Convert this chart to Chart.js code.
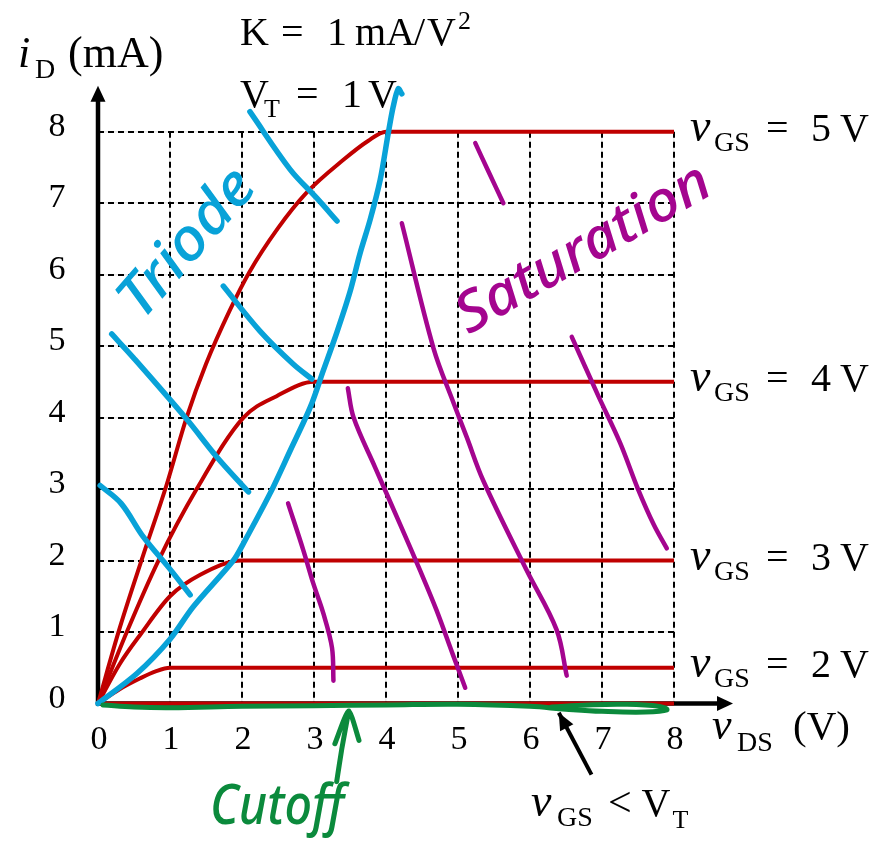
<!DOCTYPE html>
<html>
<head>
<meta charset="utf-8">
<script src="https://cdn.jsdelivr.net/npm/chart.js@4/dist/chart.umd.min.js"></script>
<style>
  html, body { margin: 0; padding: 0; background: #fff; }
  canvas { display: block; }
</style>
</head>
<body>
<canvas id="chart" width="883" height="844"></canvas>
<script>
// Axis ticks
const vdsTicks = [0, 1, 2, 3, 4, 5, 6, 7, 8];
const idTicks = [0, 1, 2, 3, 4, 5, 6, 7, 8];

// Gate-voltage labels and the saturation current each curve settles at (mA)
const gateVolts = ['5', '4', '3', '2'];
const gateSatCurrent = [8, 4.5, 2, 0.5];

// Output characteristics [v_DS (V), i_D (mA)]
const curveVgs5 = [[0,0],[0.3,1.05],[0.62,2.05],[0.95,3.05],[1.23,4],[1.5,4.75],[1.83,5.5],[2.1,6.03],[2.5,6.65],[2.9,7.15],[3.4,7.6],[3.75,7.87],[4,8],[8,8]];
const curveVgs4 = [[0,0],[0.4,1],[0.84,2],[1.37,3],[2.02,4],[2.48,4.3],[3,4.5],[8,4.5]];
const curveVgs3 = [[0,0],[0.3,0.55],[0.6,0.98],[1,1.5],[1.42,1.8],[2,2],[8,2]];
const curveVgs2 = [[0,0],[0.3,0.2],[0.58,0.35],[0.8,0.45],[1,0.5],[8,0.5]];
const curveCutoff = [[0,0],[8,0]];

// Triode / saturation boundary, sketched by hand
const edgeTriode = [[0,0],[0.54,0.42],[1.0,0.9],[1.32,1.35],[1.88,2.0],[2.02,2.24],[2.39,2.94],[2.67,3.54],[2.95,4.15],[3.13,4.66],[3.32,5.2],[3.5,5.76],[3.64,6.3],[3.78,6.77],[3.92,7.33],[4.03,7.97],[4.1,8.35],[4.17,8.6],[4.22,8.53]];

// Hatching of the triode region
const triodeHatch1 = [[0.03,3.05],[0.32,2.8],[0.63,2.33],[1.0,1.88],[1.28,1.52]];
const triodeHatch2 = [[0.19,5.17],[0.49,4.84],[1.23,3.98],[1.65,3.45],[2.09,2.96]];
const triodeHatch3 = [[1.74,5.84],[2.25,5.21],[2.71,4.75],[2.97,4.54]];
const triodeHatch4 = [[2.11,8.28],[2.67,7.47],[3.04,7.07],[3.32,6.75]];

// Hatching of the saturation region
const satHatch1 = [[2.64,2.8],[2.85,2.15],[2.99,1.68],[3.13,1.26],[3.25,0.78],[3.27,0.32]];
const satHatch2 = [[3.47,4.41],[3.55,4.0],[3.85,3.3],[4.19,2.52],[4.47,1.87],[4.7,1.31],[4.93,0.68],[5.1,0.22]];
const satHatch3 = [[4.22,6.72],[4.66,4.97],[4.94,4.2],[5.12,3.73],[5.35,3.12],[5.95,1.87],[6.37,1.03],[6.51,0.39]];
const satHatch4 = [[5.24,7.84],[5.42,7.45],[5.63,7.0]];
const satHatch5 = [[6.58,5.13],[6.95,4.3],[7.25,3.65],[7.5,3.0],[7.72,2.5],[7.9,2.17]];

// Cutoff region: loop along the axis and its pointer
const cutoffLoop = [[0.07,-0.02],[0.5,-0.05],[1.0,-0.06],[2,-0.04],[3,-0.03],[4,-0.02],[5,-0.01],[6,-0.04],[6.5,-0.08],[7,-0.11],[7.6,-0.12],[7.9,-0.09],[7.8,-0.04],[7.3,-0.01],[6.8,-0.02],[6.3,-0.05]];
const cutoffPointer = [[3.315,-1.093],[3.386,-0.635],[3.482,-0.105],[3.4,null],[3.29,-0.562],[3.482,-0.105],[3.625,-0.515]];

// Pointer from the v_GS < V_T note to the zero-current line (tail, tip)
const belowThresholdPointer = [[6.854,-0.996],[6.4,-0.13]];

const RED = '#c00000';
const BLUE = '#08a2d8';
const PURPLE = '#a4058f';
const GREEN = '#0b8a3c';
const SERIF = '"Liberation Serif", "Times New Roman", serif';
const HAND = '"Noto Sans", "Open Sans", sans-serif';

const toPts = arr => arr.map(([x, y]) => ({ x, y }));

function stroke(data, color, width, order, extra) {
  return Object.assign({
    data: toPts(data),
    borderColor: color,
    backgroundColor: color,
    borderWidth: width,
    pointRadius: 0,
    fill: false,
    clip: false,
    spanGaps: false,
    order,
    borderCapStyle: 'round',
    borderJoinStyle: 'round',
    tension: 0.35
  }, extra || {});
}

const smooth = { cubicInterpolationMode: 'monotone', borderCapStyle: 'butt' };

const datasets = [
  stroke(curveVgs5, RED, 4, 6, smooth),
  stroke(curveVgs4, RED, 4, 6, smooth),
  stroke(curveVgs3, RED, 4, 6, smooth),
  stroke(curveVgs2, RED, 4, 6, smooth),
  stroke(curveCutoff, RED, 4, 6, { tension: 0, borderCapStyle: 'butt' }),
  stroke(satHatch1, PURPLE, 4.5, 5),
  stroke(satHatch2, PURPLE, 4.5, 5),
  stroke(satHatch3, PURPLE, 4.5, 5),
  stroke(satHatch4, PURPLE, 4.5, 5),
  stroke(satHatch5, PURPLE, 4.5, 5),
  stroke(edgeTriode, BLUE, 5.5, 4, { tension: 0.3 }),
  stroke(triodeHatch1, BLUE, 5.5, 4),
  stroke(triodeHatch2, BLUE, 5.5, 4),
  stroke(triodeHatch3, BLUE, 5.5, 4),
  stroke(triodeHatch4, BLUE, 5.5, 4),
  stroke(cutoffLoop, GREEN, 5, 3, { tension: 0.4 }),
  stroke(cutoffPointer, GREEN, 5, 3, { tension: 0.2 }),
  stroke(belowThresholdPointer, '#000', 4, 2, { tension: 0, borderCapStyle: 'butt', pointerHead: true })
];
const POINTER_INDEX = datasets.length - 1;

function drawRuns(ctx, x, y, parts) {
  ctx.textAlign = 'left';
  ctx.textBaseline = 'alphabetic';
  for (const [text, font, dx, dy] of parts) {
    ctx.font = font;
    ctx.fillText(text, x + dx, y + dy);
  }
}

function drawHand(ctx, text, cx, cy, deg, width, font, color) {
  ctx.save();
  ctx.translate(cx, cy);
  ctx.rotate(deg * Math.PI / 180);
  ctx.font = font;
  const w = ctx.measureText(text).width;
  ctx.scale(width / w, 1);
  ctx.textAlign = 'center';
  ctx.textBaseline = 'middle';
  ctx.fillStyle = color;
  ctx.fillText(text, 0, 0);
  ctx.restore();
}

// filled arrowhead at (tx, ty) pointing away from (fx, fy)
function arrowHead(ctx, fx, fy, tx, ty, len, half) {
  const a = Math.atan2(ty - fy, tx - fx);
  const bx = tx - Math.cos(a) * len, by = ty - Math.sin(a) * len;
  ctx.beginPath();
  ctx.moveTo(tx, ty);
  ctx.lineTo(bx + Math.sin(a) * half, by - Math.cos(a) * half);
  ctx.lineTo(bx - Math.sin(a) * half, by + Math.cos(a) * half);
  ctx.closePath();
  ctx.fill();
}

const decor = {
  id: 'decor',
  beforeDatasetsDraw(chart) {
    const { ctx } = chart;
    const xs = chart.scales.x, ys = chart.scales.y;
    const x0 = xs.getPixelForValue(0), y0 = ys.getPixelForValue(0);
    const yTop = ys.getPixelForValue(8) - 46;
    const xEnd = xs.getPixelForValue(8) + 59;
    ctx.save();
    ctx.strokeStyle = '#000';
    ctx.fillStyle = '#000';
    ctx.lineWidth = 4.5;
    ctx.beginPath();
    ctx.moveTo(x0, y0 + 2);
    ctx.lineTo(x0, yTop + 14);
    ctx.stroke();
    arrowHead(ctx, x0, y0, x0, yTop, 16, 7.5);
    ctx.beginPath();
    ctx.moveTo(x0 - 2, y0);
    ctx.lineTo(xEnd - 14, y0);
    ctx.stroke();
    arrowHead(ctx, x0, y0, xEnd, y0, 16, 7.5);
    ctx.restore();
  },
  afterDatasetsDraw(chart) {
    const { ctx } = chart;
    const xs = chart.scales.x, ys = chart.scales.y;
    ctx.save();
    ctx.fillStyle = '#000';

    // head of the threshold pointer, placed on the dataset's last point
    const pts = chart.getDatasetMeta(POINTER_INDEX).data;
    arrowHead(ctx, pts[0].x, pts[0].y, pts[1].x, pts[1].y, 17, 7.5);

    // tick labels
    ctx.font = '34px ' + SERIF;
    ctx.textAlign = 'center';
    ctx.textBaseline = 'alphabetic';
    vdsTicks.forEach(v => ctx.fillText(String(v), xs.getPixelForValue(v) + 1, 749));
    idTicks.forEach(v => ctx.fillText(String(v), 57, ys.getPixelForValue(v) + 4));

    // axis titles
    drawRuns(ctx, 18, 66.7, [
      ['i', 'italic 44px ' + SERIF, 0, 0],
      ['D', '28px ' + SERIF, 17, 11.6],
      ['(mA)', '44px ' + SERIF, 50, 0]
    ]);
    const xr = xs.getPixelForValue(8);
    drawRuns(ctx, xr + 38, 739, [
      ['v', 'italic 44px ' + SERIF, 0, 0],
      ['DS', '28px ' + SERIF, 25, 12],
      ['(V)', '41px ' + SERIF, 81, 0]
    ]);

    // device parameters
    drawRuns(ctx, 240, 45, [
      ['K', '40px ' + SERIF, 0, 0],
      ['=', '40px ' + SERIF, 41, 0],
      ['1', '40px ' + SERIF, 87, 0],
      ['mA', '40px ' + SERIF, 115, 0],
      ['/', '40px ' + SERIF, 174, 0],
      ['V', '40px ' + SERIF, 187, 0],
      ['2', '26px ' + SERIF, 218, -16]
    ]);
    drawRuns(ctx, 240, 106.7, [
      ['V', '40px ' + SERIF, 0, 0],
      ['T', '26px ' + SERIF, 24, 10],
      ['=', '40px ' + SERIF, 56, 0],
      ['1', '40px ' + SERIF, 102, 0],
      ['V', '40px ' + SERIF, 128, 0]
    ]);

    // gate-voltage labels beside each saturation level
    gateVolts.forEach((g, i) => {
      const y = ys.getPixelForValue(gateSatCurrent[i]) + 9;
      drawRuns(ctx, xr + 16, y, [
        ['v', 'italic 46px ' + SERIF, 0, 0],
        ['GS', '28px ' + SERIF, 24, 10],
        ['=', '40px ' + SERIF, 76, 0],
        [g, '40px ' + SERIF, 121, 0],
        ['V', '40px ' + SERIF, 150, 0]
      ]);
    });

    // threshold note
    drawRuns(ctx, 531, 816, [
      ['v', 'italic 46px ' + SERIF, 0, 0],
      ['GS', '28px ' + SERIF, 26, 10.4],
      ['<', '42px ' + SERIF, 77, 0],
      ['V', '40px ' + SERIF, 110.4, 0],
      ['T', '26px ' + SERIF, 141.4, 12]
    ]);

    // region names
    drawHand(ctx, 'Triode', 188, 244, -49, 178, 'italic 500 58px ' + HAND, BLUE);
    drawHand(ctx, 'Saturation', 584, 250, -30, 285, 'italic 500 56px ' + HAND, PURPLE);
    drawHand(ctx, 'Cutoff', 277, 808, 0, 134, 'italic 500 56px ' + HAND, GREEN);
    ctx.restore();
  }
};

const zeroSize = s => { if (s.isHorizontal()) s.height = 0; else s.width = 0; };
const dashGrid = c => (c.tick && c.tick.value === 0) ? 'rgba(0,0,0,0)' : '#000';

new Chart(document.getElementById('chart'), {
  type: 'line',
  data: { datasets },
  options: {
    responsive: false,
    animation: false,
    devicePixelRatio: 1,
    events: [],
    layout: { autoPadding: false, padding: { left: 98, right: 209, top: 131.7, bottom: 140.5 } },
    plugins: { legend: { display: false }, tooltip: { enabled: false } },
    scales: {
      xFaint: {
        type: 'linear', axis: 'x', position: 'bottom', min: 0, max: 8, z: -1,
        ticks: { display: false, stepSize: 1 },
        grid: { color: '#ebebeb', lineWidth: 1.5, drawTicks: false },
        border: { display: false },
        afterFit: zeroSize
      },
      yFaint: {
        type: 'linear', axis: 'y', position: 'left', min: 0, max: 8, z: -1,
        ticks: { display: false, stepSize: 1 },
        grid: { color: '#ebebeb', lineWidth: 1.5, drawTicks: false },
        border: { display: false },
        afterFit: zeroSize
      },
      x: {
        type: 'linear', position: 'bottom', min: 0, max: 8,
        ticks: { display: false, stepSize: 1 },
        grid: { color: dashGrid, lineWidth: 2, drawTicks: false },
        border: { display: false, dash: [6, 4] },
        afterFit: zeroSize
      },
      y: {
        type: 'linear', position: 'left', min: 0, max: 8,
        ticks: { display: false, stepSize: 1 },
        grid: { color: dashGrid, lineWidth: 2, drawTicks: false },
        border: { display: false, dash: [6, 4] },
        afterFit: zeroSize
      }
    }
  },
  plugins: [decor]
});
</script>
</body>
</html>
